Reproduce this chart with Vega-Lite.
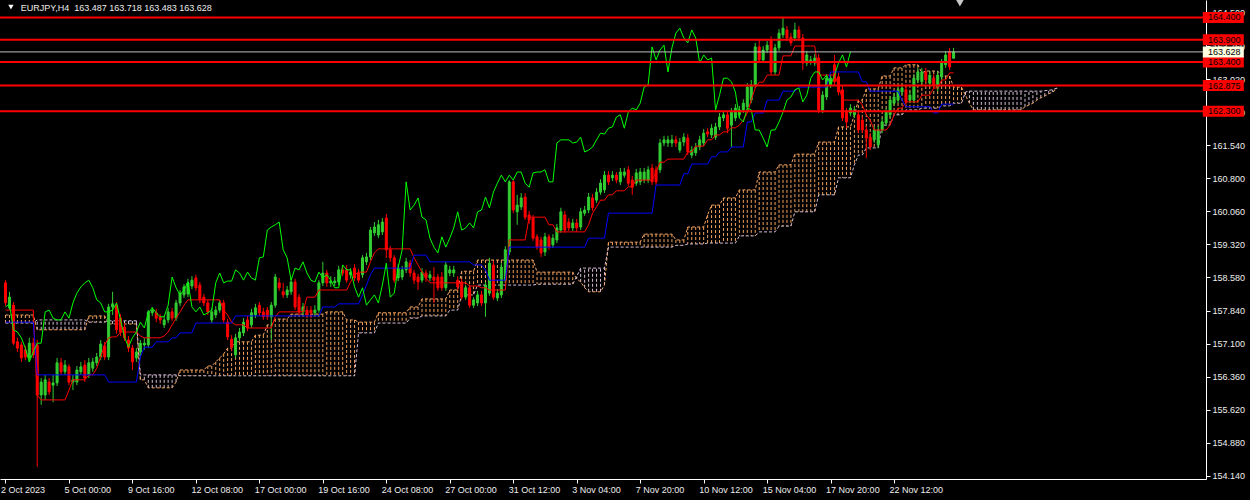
{
"$schema":"https://vega.github.io/schema/vega-lite/v6.json",
"width":1206,"height":479,"autosize":"none",
"padding":{"left":0,"top":0,"right":44,"bottom":21},
"background":"#000000",
"config":{"view":{"stroke":null},
"axis":{"grid":false,"domainColor":"#FFFFFF","tickColor":"#FFFFFF","tickSize":4,"labelColor":"#EEEEEE","labelFont":"Liberation Sans","labelFontSize":9,"labelPadding":2,"labelFlush":false,"labelOverlap":false,"labelBound":false},
"axisX":{"labelAlign":"left","labelBaseline":"top"},
"axisY":{"labelAlign":"left","labelBaseline":"middle"}},
"datasets":{
"bars":[
{"i":0,"o":158.46,"h":158.52,"l":157.94,"c":158.01,"t":157.85,"k":157.58,"ch":157.92,"a":157.74,"b":157.56},
{"i":1,"o":157.90,"h":158.26,"l":157.85,"c":158.14,"t":157.85,"k":157.58,"ch":157.99,"a":157.74,"b":157.56},
{"i":2,"o":157.96,"h":158.03,"l":157.07,"c":157.11,"t":157.85,"k":157.58,"ch":157.41,"a":157.74,"b":157.56},
{"i":3,"o":157.14,"h":157.23,"l":156.91,"c":157.00,"t":157.85,"k":157.58,"ch":157.36,"a":157.74,"b":157.56},
{"i":4,"o":157.07,"h":157.14,"l":156.69,"c":156.78,"t":157.85,"k":157.58,"ch":157.23,"a":157.74,"b":157.56},
{"i":5,"o":156.96,"h":157.05,"l":156.73,"c":156.80,"t":157.85,"k":157.58,"ch":157.00,"a":157.74,"b":157.56},
{"i":6,"o":156.78,"h":157.23,"l":156.69,"c":157.11,"t":157.85,"k":157.58,"ch":156.69,"a":157.74,"b":157.56},
{"i":7,"o":157.11,"h":157.23,"l":156.78,"c":156.85,"t":157.85,"k":157.58,"ch":156.91,"a":157.74,"b":157.56},
{"i":8,"o":157.07,"h":157.18,"l":154.34,"c":155.95,"t":155.95,"k":156.40,"ch":157.11,"a":157.41,"b":157.63},
{"i":9,"o":155.95,"h":156.33,"l":155.73,"c":156.24,"t":155.84,"k":156.40,"ch":157.11,"a":157.41,"b":157.63},
{"i":10,"o":155.95,"h":156.40,"l":155.84,"c":156.29,"t":155.84,"k":156.40,"ch":157.81,"a":157.41,"b":157.63},
{"i":11,"o":156.24,"h":156.33,"l":155.95,"c":156.02,"t":155.84,"k":156.40,"ch":157.85,"a":157.41,"b":157.63},
{"i":12,"o":156.17,"h":156.40,"l":155.79,"c":156.22,"t":155.84,"k":156.40,"ch":157.67,"a":157.41,"b":157.63},
{"i":13,"o":156.22,"h":156.78,"l":156.15,"c":156.67,"t":155.84,"k":156.40,"ch":157.63,"a":157.41,"b":157.63},
{"i":14,"o":156.67,"h":156.78,"l":156.40,"c":156.47,"t":155.84,"k":156.40,"ch":157.63,"a":157.41,"b":157.63},
{"i":15,"o":156.47,"h":156.73,"l":156.40,"c":156.62,"t":155.84,"k":156.40,"ch":157.81,"a":157.41,"b":157.63},
{"i":16,"o":156.58,"h":156.64,"l":156.17,"c":156.24,"t":156.06,"k":156.40,"ch":157.67,"a":157.41,"b":157.63},
{"i":17,"o":156.24,"h":156.40,"l":156.06,"c":156.29,"t":156.29,"k":156.40,"ch":158.01,"a":157.41,"b":157.63},
{"i":18,"o":156.24,"h":156.60,"l":156.17,"c":156.51,"t":156.29,"k":156.40,"ch":158.23,"a":157.41,"b":157.63},
{"i":19,"o":156.47,"h":156.69,"l":156.40,"c":156.58,"t":156.29,"k":156.40,"ch":158.37,"a":157.41,"b":157.63},
{"i":20,"o":156.62,"h":156.73,"l":156.24,"c":156.33,"t":156.29,"k":156.40,"ch":158.46,"a":157.41,"b":157.63},
{"i":21,"o":156.40,"h":156.78,"l":156.33,"c":156.67,"t":156.40,"k":156.40,"ch":158.52,"a":157.72,"b":157.58},
{"i":22,"o":156.55,"h":156.78,"l":156.47,"c":156.69,"t":156.40,"k":156.40,"ch":158.35,"a":157.72,"b":157.58},
{"i":23,"o":156.67,"h":156.89,"l":156.60,"c":156.80,"t":156.55,"k":156.40,"ch":158.08,"a":157.72,"b":157.58},
{"i":24,"o":156.80,"h":157.18,"l":156.73,"c":157.09,"t":156.80,"k":156.40,"ch":158.01,"a":157.72,"b":157.58},
{"i":25,"o":157.05,"h":157.14,"l":156.73,"c":156.80,"t":157.07,"k":156.40,"ch":157.81,"a":157.72,"b":157.58},
{"i":26,"o":156.80,"h":157.99,"l":156.73,"c":157.92,"t":157.23,"k":156.24,"ch":157.81,"a":157.54,"b":157.61},
{"i":27,"o":157.92,"h":158.26,"l":157.74,"c":157.99,"t":157.25,"k":156.24,"ch":157.85,"a":157.54,"b":157.61},
{"i":28,"o":157.96,"h":158.03,"l":157.32,"c":157.41,"t":157.25,"k":156.24,"ch":158.01,"a":157.54,"b":157.61},
{"i":29,"o":157.67,"h":157.76,"l":157.27,"c":157.36,"t":157.36,"k":156.24,"ch":157.63,"a":157.54,"b":157.61},
{"i":30,"o":157.47,"h":157.56,"l":157.16,"c":157.23,"t":157.36,"k":156.24,"ch":157.25,"a":157.54,"b":157.61},
{"i":31,"o":157.18,"h":157.27,"l":156.91,"c":157.00,"t":157.36,"k":156.24,"ch":157.02,"a":157.54,"b":157.61},
{"i":32,"o":157.00,"h":157.07,"l":156.51,"c":156.69,"t":157.36,"k":156.24,"ch":157.23,"a":157.54,"b":157.61},
{"i":33,"o":156.78,"h":157.00,"l":156.69,"c":156.91,"t":157.36,"k":156.24,"ch":157.36,"a":157.54,"b":157.61},
{"i":34,"o":156.91,"h":157.18,"l":156.82,"c":157.11,"t":157.27,"k":156.80,"ch":157.58,"a":156.29,"b":156.40},
{"i":35,"o":157.07,"h":157.23,"l":156.96,"c":157.11,"t":157.23,"k":157.02,"ch":157.45,"a":156.29,"b":156.40},
{"i":36,"o":157.07,"h":157.85,"l":157.00,"c":157.81,"t":157.23,"k":157.02,"ch":157.79,"a":156.11,"b":156.40},
{"i":37,"o":157.79,"h":157.92,"l":157.72,"c":157.85,"t":157.23,"k":157.02,"ch":157.90,"a":156.11,"b":156.40},
{"i":38,"o":157.79,"h":157.88,"l":157.58,"c":157.67,"t":157.23,"k":157.14,"ch":157.79,"a":156.11,"b":156.40},
{"i":39,"o":157.70,"h":157.76,"l":157.54,"c":157.63,"t":157.23,"k":157.14,"ch":157.70,"a":156.11,"b":156.40},
{"i":40,"o":157.52,"h":157.72,"l":157.45,"c":157.63,"t":157.27,"k":157.14,"ch":157.70,"a":156.11,"b":156.40},
{"i":41,"o":157.63,"h":157.90,"l":157.56,"c":157.81,"t":157.36,"k":157.14,"ch":157.96,"a":156.11,"b":156.40},
{"i":42,"o":157.81,"h":157.90,"l":157.61,"c":157.67,"t":157.52,"k":157.23,"ch":158.59,"a":156.11,"b":156.40},
{"i":43,"o":157.67,"h":158.08,"l":157.61,"c":158.01,"t":157.67,"k":157.23,"ch":158.35,"a":156.24,"b":156.40},
{"i":44,"o":158.01,"h":158.30,"l":157.94,"c":158.23,"t":157.81,"k":157.34,"ch":158.19,"a":156.51,"b":156.38},
{"i":45,"o":158.19,"h":158.43,"l":158.12,"c":158.37,"t":157.96,"k":157.34,"ch":158.30,"a":156.51,"b":156.38},
{"i":46,"o":158.21,"h":158.55,"l":158.14,"c":158.46,"t":158.08,"k":157.34,"ch":158.48,"a":156.51,"b":156.38},
{"i":47,"o":158.39,"h":158.61,"l":158.32,"c":158.52,"t":158.08,"k":157.34,"ch":157.92,"a":156.51,"b":156.38},
{"i":48,"o":158.57,"h":158.64,"l":158.28,"c":158.35,"t":158.08,"k":157.56,"ch":157.81,"a":156.51,"b":156.38},
{"i":49,"o":158.41,"h":158.48,"l":158.01,"c":158.08,"t":158.08,"k":157.56,"ch":157.92,"a":156.51,"b":156.38},
{"i":50,"o":158.14,"h":158.21,"l":157.94,"c":158.01,"t":158.08,"k":157.56,"ch":157.74,"a":156.51,"b":156.38},
{"i":51,"o":158.01,"h":158.08,"l":157.74,"c":157.81,"t":158.08,"k":157.56,"ch":157.79,"a":156.60,"b":156.38},
{"i":52,"o":157.63,"h":157.90,"l":157.56,"c":157.81,"t":158.08,"k":157.56,"ch":157.85,"a":156.60,"b":156.38},
{"i":53,"o":157.74,"h":157.94,"l":157.67,"c":157.85,"t":158.08,"k":157.56,"ch":158.46,"a":156.69,"b":156.38},
{"i":54,"o":157.85,"h":158.08,"l":157.79,"c":158.01,"t":158.08,"k":157.56,"ch":158.68,"a":156.78,"b":156.38},
{"i":55,"o":158.01,"h":158.08,"l":157.56,"c":157.63,"t":157.85,"k":157.56,"ch":158.46,"a":156.87,"b":156.38},
{"i":56,"o":157.58,"h":157.65,"l":157.18,"c":157.25,"t":157.74,"k":157.56,"ch":158.50,"a":157.00,"b":156.38},
{"i":57,"o":157.20,"h":157.29,"l":156.93,"c":157.02,"t":157.58,"k":157.56,"ch":158.50,"a":157.00,"b":156.38},
{"i":58,"o":156.85,"h":157.32,"l":156.78,"c":157.23,"t":157.52,"k":157.72,"ch":158.75,"a":157.14,"b":156.38},
{"i":59,"o":157.23,"h":157.45,"l":157.16,"c":157.36,"t":157.52,"k":157.72,"ch":158.68,"a":157.14,"b":156.38},
{"i":60,"o":157.34,"h":157.67,"l":157.27,"c":157.58,"t":157.52,"k":157.72,"ch":158.52,"a":157.14,"b":156.38},
{"i":61,"o":157.63,"h":157.72,"l":157.38,"c":157.45,"t":157.45,"k":157.72,"ch":158.70,"a":157.14,"b":156.38},
{"i":62,"o":157.52,"h":157.88,"l":157.45,"c":157.79,"t":157.45,"k":157.72,"ch":158.57,"a":157.14,"b":156.38},
{"i":63,"o":157.74,"h":157.99,"l":157.67,"c":157.90,"t":157.45,"k":157.72,"ch":158.52,"a":157.29,"b":156.38},
{"i":64,"o":157.96,"h":158.03,"l":157.72,"c":157.79,"t":157.45,"k":157.72,"ch":159.02,"a":157.29,"b":156.38},
{"i":65,"o":157.81,"h":157.90,"l":157.63,"c":157.70,"t":157.45,"k":157.72,"ch":159.04,"a":157.29,"b":156.38},
{"i":66,"o":157.85,"h":157.92,"l":157.63,"c":157.70,"t":157.45,"k":157.72,"ch":159.64,"a":157.52,"b":156.38},
{"i":67,"o":157.70,"h":158.03,"l":157.18,"c":157.96,"t":157.45,"k":157.72,"ch":159.71,"a":157.52,"b":156.38},
{"i":68,"o":157.96,"h":158.66,"l":157.90,"c":158.59,"t":157.70,"k":157.72,"ch":159.76,"a":157.65,"b":156.38},
{"i":69,"o":158.46,"h":158.57,"l":158.28,"c":158.35,"t":157.81,"k":157.72,"ch":159.82,"a":157.65,"b":156.38},
{"i":70,"o":158.26,"h":158.46,"l":158.12,"c":158.19,"t":157.81,"k":157.72,"ch":159.20,"a":157.65,"b":156.38},
{"i":71,"o":158.19,"h":158.39,"l":158.12,"c":158.30,"t":157.81,"k":157.72,"ch":159.02,"a":157.65,"b":156.38},
{"i":72,"o":158.26,"h":158.57,"l":158.19,"c":158.48,"t":157.81,"k":157.72,"ch":158.52,"a":157.76,"b":156.38},
{"i":73,"o":158.48,"h":158.55,"l":157.85,"c":157.92,"t":157.81,"k":157.72,"ch":158.79,"a":157.76,"b":156.38},
{"i":74,"o":158.14,"h":158.21,"l":157.74,"c":157.81,"t":157.81,"k":157.72,"ch":158.75,"a":157.76,"b":156.38},
{"i":75,"o":157.81,"h":158.01,"l":157.74,"c":157.92,"t":157.81,"k":157.72,"ch":158.93,"a":157.76,"b":156.38},
{"i":76,"o":157.85,"h":157.94,"l":157.67,"c":157.74,"t":158.14,"k":157.72,"ch":158.68,"a":157.76,"b":156.38},
{"i":77,"o":157.85,"h":157.94,"l":157.67,"c":157.79,"t":158.14,"k":157.72,"ch":158.52,"a":157.76,"b":156.38},
{"i":78,"o":157.79,"h":157.96,"l":157.72,"c":157.85,"t":158.14,"k":157.72,"ch":158.48,"a":157.76,"b":156.38},
{"i":79,"o":157.85,"h":158.52,"l":157.79,"c":158.46,"t":158.30,"k":157.72,"ch":158.70,"a":157.76,"b":156.38},
{"i":80,"o":158.46,"h":158.93,"l":158.39,"c":158.68,"t":158.30,"k":157.92,"ch":158.57,"a":157.76,"b":156.38},
{"i":81,"o":158.68,"h":158.75,"l":158.37,"c":158.46,"t":158.30,"k":157.92,"ch":158.64,"a":157.81,"b":156.38},
{"i":82,"o":158.46,"h":158.61,"l":158.37,"c":158.50,"t":158.30,"k":157.92,"ch":158.52,"a":157.81,"b":156.38},
{"i":83,"o":158.46,"h":158.59,"l":158.39,"c":158.50,"t":158.30,"k":157.92,"ch":158.35,"a":157.81,"b":156.38},
{"i":84,"o":158.48,"h":158.84,"l":158.41,"c":158.75,"t":158.30,"k":157.99,"ch":158.35,"a":157.81,"b":156.38},
{"i":85,"o":158.75,"h":158.86,"l":158.61,"c":158.68,"t":158.30,"k":157.99,"ch":158.86,"a":157.81,"b":156.38},
{"i":86,"o":158.75,"h":158.86,"l":158.46,"c":158.52,"t":158.30,"k":157.99,"ch":158.75,"a":157.63,"b":156.38},
{"i":87,"o":158.64,"h":158.79,"l":158.55,"c":158.70,"t":158.48,"k":157.99,"ch":158.75,"a":157.63,"b":156.38},
{"i":88,"o":158.79,"h":158.88,"l":158.50,"c":158.57,"t":158.64,"k":157.99,"ch":158.37,"a":157.63,"b":156.38},
{"i":89,"o":158.68,"h":158.77,"l":158.46,"c":158.52,"t":158.70,"k":157.99,"ch":158.14,"a":157.58,"b":157.34},
{"i":90,"o":158.64,"h":159.08,"l":158.57,"c":159.02,"t":158.70,"k":158.19,"ch":158.35,"a":157.58,"b":157.34},
{"i":91,"o":158.93,"h":159.13,"l":158.86,"c":159.04,"t":158.70,"k":158.41,"ch":157.96,"a":157.58,"b":157.34},
{"i":92,"o":159.04,"h":159.71,"l":158.97,"c":159.64,"t":158.93,"k":158.64,"ch":158.08,"a":157.58,"b":157.34},
{"i":93,"o":159.58,"h":159.82,"l":159.51,"c":159.71,"t":159.13,"k":158.79,"ch":158.19,"a":157.58,"b":157.34},
{"i":94,"o":159.53,"h":159.87,"l":159.46,"c":159.76,"t":159.22,"k":158.79,"ch":158.01,"a":157.79,"b":157.56},
{"i":95,"o":159.60,"h":159.91,"l":159.53,"c":159.82,"t":159.22,"k":158.79,"ch":158.41,"a":157.79,"b":157.56},
{"i":96,"o":159.91,"h":160.00,"l":159.02,"c":159.20,"t":159.22,"k":158.79,"ch":158.90,"a":157.79,"b":157.56},
{"i":97,"o":159.20,"h":159.28,"l":158.93,"c":159.02,"t":159.22,"k":158.79,"ch":158.14,"a":157.79,"b":157.56},
{"i":98,"o":159.02,"h":159.08,"l":158.46,"c":158.52,"t":159.22,"k":158.79,"ch":158.23,"a":157.79,"b":157.56},
{"i":99,"o":158.57,"h":158.88,"l":158.50,"c":158.79,"t":159.22,"k":158.79,"ch":158.81,"a":157.79,"b":157.56},
{"i":100,"o":158.59,"h":158.84,"l":158.52,"c":158.75,"t":159.22,"k":158.79,"ch":159.20,"a":157.79,"b":157.56},
{"i":101,"o":158.75,"h":159.02,"l":158.68,"c":158.93,"t":159.22,"k":158.79,"ch":160.72,"a":157.79,"b":157.56},
{"i":102,"o":158.90,"h":158.97,"l":158.59,"c":158.68,"t":159.22,"k":158.79,"ch":160.09,"a":157.92,"b":157.67},
{"i":103,"o":158.68,"h":158.75,"l":158.43,"c":158.52,"t":159.02,"k":159.08,"ch":160.20,"a":157.92,"b":157.67},
{"i":104,"o":158.59,"h":158.66,"l":158.30,"c":158.48,"t":158.86,"k":159.08,"ch":160.36,"a":157.92,"b":157.67},
{"i":105,"o":158.52,"h":158.79,"l":158.46,"c":158.70,"t":158.70,"k":159.08,"ch":159.93,"a":158.10,"b":157.72},
{"i":106,"o":158.68,"h":158.75,"l":158.48,"c":158.57,"t":158.57,"k":159.08,"ch":159.87,"a":158.10,"b":157.72},
{"i":107,"o":158.57,"h":158.73,"l":158.50,"c":158.64,"t":158.46,"k":158.93,"ch":159.46,"a":158.10,"b":157.72},
{"i":108,"o":158.59,"h":158.81,"l":158.01,"c":158.52,"t":158.46,"k":158.93,"ch":159.26,"a":158.10,"b":157.72},
{"i":109,"o":158.59,"h":158.66,"l":158.28,"c":158.35,"t":158.46,"k":158.93,"ch":159.13,"a":158.10,"b":157.72},
{"i":110,"o":158.59,"h":158.70,"l":158.28,"c":158.35,"t":158.46,"k":158.93,"ch":159.49,"a":158.10,"b":157.72},
{"i":111,"o":158.35,"h":158.93,"l":158.28,"c":158.86,"t":158.46,"k":158.93,"ch":159.26,"a":158.10,"b":157.72},
{"i":112,"o":158.68,"h":158.84,"l":158.61,"c":158.75,"t":158.46,"k":158.93,"ch":159.46,"a":158.30,"b":157.85},
{"i":113,"o":158.68,"h":158.84,"l":158.59,"c":158.75,"t":158.46,"k":158.93,"ch":159.69,"a":158.30,"b":157.85},
{"i":114,"o":158.52,"h":158.61,"l":158.30,"c":158.37,"t":158.46,"k":158.93,"ch":160.05,"a":158.30,"b":157.85},
{"i":115,"o":158.48,"h":158.55,"l":158.08,"c":158.14,"t":158.46,"k":158.93,"ch":159.64,"a":158.72,"b":158.19},
{"i":116,"o":158.14,"h":158.41,"l":158.08,"c":158.35,"t":158.46,"k":158.93,"ch":159.69,"a":158.72,"b":158.19},
{"i":117,"o":158.35,"h":158.41,"l":157.90,"c":157.96,"t":158.39,"k":158.93,"ch":159.80,"a":158.72,"b":158.19},
{"i":118,"o":157.96,"h":158.14,"l":157.90,"c":158.08,"t":158.39,"k":158.86,"ch":159.69,"a":158.72,"b":158.19},
{"i":119,"o":158.01,"h":158.28,"l":157.94,"c":158.19,"t":158.39,"k":158.86,"ch":160.05,"a":158.97,"b":158.41},
{"i":120,"o":158.19,"h":158.28,"l":157.94,"c":158.01,"t":158.35,"k":158.86,"ch":160.09,"a":158.97,"b":158.41},
{"i":121,"o":158.01,"h":158.48,"l":157.70,"c":158.41,"t":158.35,"k":158.75,"ch":160.38,"a":158.97,"b":158.41},
{"i":122,"o":158.23,"h":159.02,"l":158.17,"c":158.90,"t":158.30,"k":158.52,"ch":160.14,"a":158.97,"b":158.41},
{"i":123,"o":158.86,"h":158.95,"l":158.08,"c":158.14,"t":158.30,"k":158.52,"ch":160.49,"a":158.97,"b":158.41},
{"i":124,"o":158.12,"h":158.32,"l":158.05,"c":158.23,"t":158.30,"k":158.52,"ch":160.69,"a":158.97,"b":158.41},
{"i":125,"o":158.19,"h":158.90,"l":158.12,"c":158.81,"t":158.30,"k":158.52,"ch":160.87,"a":158.97,"b":158.41},
{"i":126,"o":158.52,"h":159.28,"l":158.46,"c":159.20,"t":158.30,"k":158.52,"ch":160.72,"a":158.97,"b":158.41},
{"i":127,"o":159.15,"h":160.76,"l":159.08,"c":160.72,"t":159.42,"k":159.26,"ch":160.87,"a":158.97,"b":158.41},
{"i":128,"o":160.72,"h":160.76,"l":160.02,"c":160.09,"t":159.42,"k":159.26,"ch":160.76,"a":158.97,"b":158.41},
{"i":129,"o":160.05,"h":160.43,"l":159.76,"c":160.20,"t":159.42,"k":159.26,"ch":160.94,"a":158.97,"b":158.41},
{"i":130,"o":160.16,"h":160.47,"l":160.09,"c":160.36,"t":159.42,"k":159.26,"ch":160.94,"a":158.97,"b":158.41},
{"i":131,"o":160.38,"h":160.47,"l":159.87,"c":159.93,"t":159.42,"k":159.26,"ch":160.69,"a":158.97,"b":158.41},
{"i":132,"o":159.98,"h":160.07,"l":159.78,"c":159.87,"t":159.93,"k":159.26,"ch":160.60,"a":158.97,"b":158.41},
{"i":133,"o":159.91,"h":159.98,"l":159.40,"c":159.46,"t":159.93,"k":159.26,"ch":160.92,"a":158.97,"b":158.41},
{"i":134,"o":159.49,"h":159.55,"l":159.20,"c":159.26,"t":159.93,"k":159.26,"ch":160.94,"a":158.70,"b":158.43},
{"i":135,"o":159.42,"h":159.49,"l":159.04,"c":159.13,"t":159.93,"k":159.26,"ch":160.94,"a":158.70,"b":158.43},
{"i":136,"o":159.15,"h":159.58,"l":159.06,"c":159.49,"t":159.93,"k":159.26,"ch":160.99,"a":158.70,"b":158.43},
{"i":137,"o":159.49,"h":159.55,"l":159.20,"c":159.26,"t":159.76,"k":159.26,"ch":160.72,"a":158.70,"b":158.43},
{"i":138,"o":159.31,"h":159.55,"l":159.24,"c":159.46,"t":159.76,"k":159.26,"ch":160.72,"a":158.70,"b":158.43},
{"i":139,"o":159.42,"h":159.78,"l":159.35,"c":159.69,"t":159.60,"k":159.26,"ch":161.59,"a":158.70,"b":158.43},
{"i":140,"o":159.64,"h":160.14,"l":159.58,"c":160.05,"t":159.60,"k":159.26,"ch":161.66,"a":158.70,"b":158.43},
{"i":141,"o":159.98,"h":160.07,"l":159.58,"c":159.64,"t":159.60,"k":159.26,"ch":161.66,"a":158.70,"b":158.43},
{"i":142,"o":159.82,"h":159.91,"l":159.62,"c":159.69,"t":159.60,"k":159.26,"ch":161.66,"a":158.70,"b":158.43},
{"i":143,"o":159.69,"h":159.89,"l":159.62,"c":159.80,"t":159.60,"k":159.26,"ch":161.59,"a":158.70,"b":158.43},
{"i":144,"o":159.80,"h":159.89,"l":159.60,"c":159.69,"t":159.60,"k":159.26,"ch":161.61,"a":158.55,"b":158.60},
{"i":145,"o":159.71,"h":160.14,"l":159.64,"c":160.05,"t":159.60,"k":159.26,"ch":161.72,"a":158.48,"b":158.79},
{"i":146,"o":160.02,"h":160.18,"l":159.96,"c":160.09,"t":159.60,"k":159.26,"ch":161.39,"a":158.35,"b":158.79},
{"i":147,"o":160.09,"h":160.47,"l":160.02,"c":160.38,"t":159.76,"k":159.46,"ch":161.43,"a":158.26,"b":158.79},
{"i":148,"o":160.36,"h":160.45,"l":160.07,"c":160.14,"t":160.02,"k":159.46,"ch":161.50,"a":158.26,"b":158.79},
{"i":149,"o":160.31,"h":160.58,"l":160.25,"c":160.49,"t":160.16,"k":159.46,"ch":161.66,"a":158.26,"b":158.79},
{"i":150,"o":160.49,"h":160.78,"l":160.43,"c":160.69,"t":160.31,"k":159.46,"ch":161.81,"a":158.26,"b":158.79},
{"i":151,"o":160.54,"h":160.96,"l":160.47,"c":160.87,"t":160.31,"k":159.46,"ch":161.79,"a":158.41,"b":158.79},
{"i":152,"o":160.87,"h":160.96,"l":160.65,"c":160.72,"t":160.43,"k":160.02,"ch":161.92,"a":159.37,"b":159.26},
{"i":153,"o":160.81,"h":160.96,"l":160.74,"c":160.87,"t":160.43,"k":160.02,"ch":161.95,"a":159.37,"b":159.26},
{"i":154,"o":160.87,"h":160.94,"l":160.69,"c":160.76,"t":160.52,"k":160.02,"ch":162.17,"a":159.37,"b":159.26},
{"i":155,"o":160.72,"h":161.03,"l":160.65,"c":160.94,"t":160.52,"k":160.02,"ch":162.22,"a":159.37,"b":159.26},
{"i":156,"o":160.87,"h":161.03,"l":160.81,"c":160.94,"t":160.52,"k":160.02,"ch":161.92,"a":159.37,"b":159.26},
{"i":157,"o":160.99,"h":161.07,"l":160.63,"c":160.69,"t":160.61,"k":160.02,"ch":162.28,"a":159.37,"b":159.26},
{"i":158,"o":160.76,"h":160.85,"l":160.43,"c":160.60,"t":160.61,"k":160.02,"ch":162.37,"a":159.37,"b":159.26},
{"i":159,"o":160.69,"h":161.01,"l":160.63,"c":160.92,"t":160.76,"k":160.02,"ch":162.33,"a":159.37,"b":159.26},
{"i":160,"o":160.72,"h":161.03,"l":160.65,"c":160.94,"t":160.76,"k":160.02,"ch":162.48,"a":159.37,"b":159.26},
{"i":161,"o":160.76,"h":161.03,"l":160.69,"c":160.94,"t":160.76,"k":160.02,"ch":162.84,"a":159.55,"b":159.26},
{"i":162,"o":160.76,"h":161.07,"l":160.69,"c":160.99,"t":160.76,"k":160.02,"ch":162.89,"a":159.55,"b":159.26},
{"i":163,"o":161.03,"h":161.12,"l":160.65,"c":160.72,"t":160.76,"k":160.02,"ch":163.74,"a":159.55,"b":159.26},
{"i":164,"o":160.99,"h":161.07,"l":160.65,"c":160.72,"t":160.94,"k":160.65,"ch":163.45,"a":159.55,"b":159.26},
{"i":165,"o":160.99,"h":161.68,"l":160.92,"c":161.59,"t":161.16,"k":160.65,"ch":163.67,"a":159.55,"b":159.26},
{"i":166,"o":161.59,"h":161.75,"l":161.52,"c":161.66,"t":161.16,"k":160.65,"ch":163.78,"a":159.55,"b":159.26},
{"i":167,"o":161.59,"h":161.75,"l":161.50,"c":161.66,"t":161.23,"k":160.65,"ch":163.18,"a":159.55,"b":159.26},
{"i":168,"o":161.59,"h":161.77,"l":161.50,"c":161.66,"t":161.23,"k":160.65,"ch":163.72,"a":159.55,"b":159.26},
{"i":169,"o":161.66,"h":161.75,"l":161.50,"c":161.59,"t":161.23,"k":160.65,"ch":164.05,"a":159.42,"b":159.30},
{"i":170,"o":161.43,"h":161.70,"l":161.37,"c":161.61,"t":161.23,"k":160.65,"ch":164.16,"a":159.42,"b":159.30},
{"i":171,"o":161.61,"h":161.81,"l":161.52,"c":161.72,"t":161.23,"k":160.90,"ch":163.94,"a":159.42,"b":159.30},
{"i":172,"o":161.70,"h":161.79,"l":161.32,"c":161.39,"t":161.39,"k":160.90,"ch":163.83,"a":159.71,"b":159.33},
{"i":173,"o":161.32,"h":161.52,"l":161.25,"c":161.43,"t":161.39,"k":161.12,"ch":164.12,"a":159.71,"b":159.33},
{"i":174,"o":161.37,"h":161.59,"l":161.30,"c":161.50,"t":161.52,"k":161.12,"ch":163.94,"a":159.71,"b":159.33},
{"i":175,"o":161.50,"h":161.75,"l":161.43,"c":161.66,"t":161.52,"k":161.12,"ch":163.38,"a":159.71,"b":159.33},
{"i":176,"o":161.59,"h":161.90,"l":161.52,"c":161.81,"t":161.52,"k":161.12,"ch":163.56,"a":159.71,"b":159.33},
{"i":177,"o":161.84,"h":161.92,"l":161.72,"c":161.79,"t":161.66,"k":161.12,"ch":163.45,"a":159.98,"b":159.35},
{"i":178,"o":161.77,"h":162.01,"l":161.70,"c":161.92,"t":161.66,"k":161.28,"ch":163.49,"a":160.20,"b":159.35},
{"i":179,"o":161.72,"h":162.04,"l":161.66,"c":161.95,"t":161.77,"k":161.28,"ch":162.33,"a":160.20,"b":159.35},
{"i":180,"o":161.95,"h":162.26,"l":161.88,"c":162.17,"t":161.77,"k":161.39,"ch":162.66,"a":160.20,"b":159.35},
{"i":181,"o":162.15,"h":162.31,"l":162.08,"c":162.22,"t":161.84,"k":161.39,"ch":163.04,"a":160.36,"b":159.35},
{"i":182,"o":162.22,"h":162.31,"l":161.81,"c":161.92,"t":161.84,"k":161.39,"ch":163.04,"a":160.36,"b":159.35},
{"i":183,"o":161.99,"h":162.37,"l":161.50,"c":162.28,"t":161.93,"k":161.50,"ch":162.96,"a":160.36,"b":159.35},
{"i":184,"o":162.15,"h":162.46,"l":162.08,"c":162.37,"t":161.93,"k":161.50,"ch":162.73,"a":160.36,"b":159.35},
{"i":185,"o":162.22,"h":162.42,"l":162.15,"c":162.33,"t":161.99,"k":161.50,"ch":162.15,"a":160.54,"b":159.51},
{"i":186,"o":162.33,"h":162.57,"l":162.26,"c":162.48,"t":162.10,"k":161.50,"ch":162.06,"a":160.54,"b":159.51},
{"i":187,"o":162.40,"h":162.93,"l":162.33,"c":162.84,"t":162.26,"k":162.06,"ch":162.37,"a":160.54,"b":159.51},
{"i":188,"o":162.55,"h":163.00,"l":162.48,"c":162.89,"t":162.55,"k":162.06,"ch":162.33,"a":160.54,"b":159.51},
{"i":189,"o":162.89,"h":163.83,"l":162.82,"c":163.74,"t":162.82,"k":162.26,"ch":161.88,"a":160.54,"b":159.51},
{"i":190,"o":163.74,"h":163.90,"l":163.38,"c":163.45,"t":162.95,"k":162.26,"ch":161.88,"a":160.94,"b":159.60},
{"i":191,"o":163.45,"h":163.76,"l":163.38,"c":163.67,"t":162.95,"k":162.26,"ch":161.70,"a":160.94,"b":159.60},
{"i":192,"o":163.67,"h":163.87,"l":163.60,"c":163.78,"t":163.11,"k":162.55,"ch":161.50,"a":160.94,"b":159.60},
{"i":193,"o":163.90,"h":163.98,"l":163.11,"c":163.18,"t":163.11,"k":162.55,"ch":161.88,"a":160.94,"b":159.60},
{"i":194,"o":163.18,"h":163.81,"l":163.11,"c":163.72,"t":163.11,"k":162.55,"ch":161.88,"a":160.94,"b":159.60},
{"i":195,"o":163.72,"h":164.14,"l":163.65,"c":164.05,"t":163.11,"k":162.55,"ch":162.06,"a":161.10,"b":159.73},
{"i":196,"o":164.01,"h":164.39,"l":163.94,"c":164.16,"t":163.54,"k":162.75,"ch":162.28,"a":161.10,"b":159.73},
{"i":197,"o":164.12,"h":164.21,"l":163.87,"c":163.94,"t":163.54,"k":162.75,"ch":162.55,"a":161.10,"b":159.73},
{"i":198,"o":163.96,"h":164.05,"l":163.76,"c":163.83,"t":163.54,"k":162.75,"ch":162.62,"a":161.10,"b":159.73},
{"i":199,"o":163.94,"h":164.28,"l":163.87,"c":164.12,"t":163.76,"k":162.75,"ch":162.78,"a":161.34,"b":160.05},
{"i":200,"o":164.12,"h":164.21,"l":163.87,"c":163.94,"t":163.76,"k":162.84,"ch":162.82,"a":161.34,"b":160.05},
{"i":201,"o":163.94,"h":164.03,"l":163.22,"c":163.38,"t":163.76,"k":162.84,"ch":162.51,"a":161.34,"b":160.05},
{"i":202,"o":163.38,"h":163.65,"l":163.31,"c":163.56,"t":163.76,"k":162.84,"ch":162.66,"a":161.34,"b":160.05},
{"i":203,"o":163.40,"h":163.54,"l":163.34,"c":163.45,"t":163.76,"k":162.84,"ch":163.04,"a":161.34,"b":160.05},
{"i":204,"o":163.38,"h":163.58,"l":163.31,"c":163.49,"t":163.76,"k":162.84,"ch":163.18,"a":161.34,"b":160.05},
{"i":205,"o":163.49,"h":163.58,"l":162.26,"c":162.33,"t":163.11,"k":162.84,"ch":163.18,"a":161.61,"b":160.43},
{"i":206,"o":162.33,"h":162.75,"l":162.26,"c":162.66,"t":163.11,"k":162.84,"ch":163.00,"a":161.61,"b":160.43},
{"i":207,"o":162.62,"h":163.13,"l":162.55,"c":163.04,"t":163.11,"k":162.84,"ch":163.11,"a":161.61,"b":160.43},
{"i":208,"o":162.89,"h":163.13,"l":162.82,"c":163.04,"t":163.11,"k":163.18,"ch":162.89,"a":161.61,"b":160.43},
{"i":209,"o":163.34,"h":163.56,"l":162.89,"c":162.96,"t":163.11,"k":163.18,"ch":163.11,"a":161.61,"b":160.43},
{"i":210,"o":163.07,"h":163.16,"l":162.66,"c":162.73,"t":162.89,"k":163.18,"ch":163.38,"a":161.95,"b":160.81},
{"i":211,"o":162.78,"h":162.87,"l":162.08,"c":162.15,"t":162.55,"k":163.18,"ch":163.56,"a":161.95,"b":160.81},
{"i":212,"o":162.28,"h":162.37,"l":161.93,"c":162.06,"t":162.55,"k":163.18,"ch":163.29,"a":161.95,"b":160.81},
{"i":213,"o":162.26,"h":162.46,"l":162.19,"c":162.37,"t":162.55,"k":163.18,"ch":163.628,"a":161.95,"b":160.81},
{"i":214,"o":162.22,"h":162.42,"l":162.15,"c":162.33,"t":162.55,"k":163.18,"a":162.22,"b":161.10},
{"i":215,"o":162.22,"h":162.31,"l":161.81,"c":161.88,"t":162.55,"k":163.18,"a":162.55,"b":161.32},
{"i":216,"o":162.10,"h":162.19,"l":161.81,"c":161.88,"t":162.44,"k":162.96,"a":162.55,"b":161.32},
{"i":217,"o":161.88,"h":161.97,"l":161.25,"c":161.70,"t":162.22,"k":162.96,"a":162.80,"b":161.48},
{"i":218,"o":161.72,"h":161.81,"l":161.43,"c":161.50,"t":162.10,"k":162.75,"a":162.80,"b":161.48},
{"i":219,"o":161.66,"h":161.97,"l":161.59,"c":161.88,"t":161.88,"k":162.75,"a":162.80,"b":161.48},
{"i":220,"o":161.55,"h":161.97,"l":161.48,"c":161.88,"t":161.88,"k":162.75,"a":162.80,"b":161.48},
{"i":221,"o":161.88,"h":162.15,"l":161.81,"c":162.06,"t":161.88,"k":162.75,"a":163.09,"b":161.99},
{"i":222,"o":162.04,"h":162.37,"l":161.97,"c":162.28,"t":161.88,"k":162.75,"a":163.09,"b":161.99},
{"i":223,"o":162.22,"h":162.64,"l":162.15,"c":162.55,"t":161.99,"k":162.75,"a":163.09,"b":161.99},
{"i":224,"o":162.48,"h":162.71,"l":162.42,"c":162.62,"t":162.22,"k":162.75,"a":163.27,"b":162.22},
{"i":225,"o":162.55,"h":162.87,"l":162.48,"c":162.78,"t":162.37,"k":162.75,"a":163.27,"b":162.22},
{"i":226,"o":162.73,"h":162.91,"l":162.66,"c":162.82,"t":162.37,"k":162.55,"a":163.27,"b":162.22},
{"i":227,"o":162.78,"h":162.87,"l":162.44,"c":162.51,"t":162.51,"k":162.40,"a":163.34,"b":162.33},
{"i":228,"o":162.55,"h":162.75,"l":162.48,"c":162.66,"t":162.51,"k":162.40,"a":163.34,"b":162.33},
{"i":229,"o":162.55,"h":163.13,"l":162.48,"c":163.04,"t":162.51,"k":162.40,"a":163.34,"b":162.33},
{"i":230,"o":163.00,"h":163.27,"l":162.93,"c":163.18,"t":162.51,"k":162.40,"a":163.34,"b":162.33},
{"i":231,"o":162.96,"h":163.27,"l":162.89,"c":163.18,"t":162.66,"k":162.40,"a":163.16,"b":162.37},
{"i":232,"o":163.18,"h":163.27,"l":162.93,"c":163.00,"t":162.66,"k":162.40,"a":163.20,"b":162.37},
{"i":233,"o":162.93,"h":163.20,"l":162.87,"c":163.11,"t":162.66,"k":162.40,"a":163.20,"b":162.37},
{"i":234,"o":163.04,"h":163.13,"l":162.82,"c":162.89,"t":162.82,"k":162.26,"a":163.20,"b":162.37},
{"i":235,"o":162.82,"h":163.20,"l":162.75,"c":163.11,"t":162.82,"k":162.26,"a":163.20,"b":162.37},
{"i":236,"o":163.07,"h":163.47,"l":163.00,"c":163.38,"t":163.00,"k":162.46,"a":163.09,"b":162.42},
{"i":237,"o":163.34,"h":163.65,"l":163.27,"c":163.56,"t":163.00,"k":162.46,"a":163.09,"b":162.42},
{"i":238,"o":163.63,"h":163.72,"l":163.22,"c":163.29,"t":163.16,"k":162.46,"a":163.09,"b":162.42},
{"i":239,"o":163.487,"h":163.718,"l":163.483,"c":163.628,"t":163.16,"k":162.46,"a":162.84,"b":162.48},
{"i":240,"a":162.84,"b":162.48},
{"i":241,"a":162.84,"b":162.48},
{"i":242,"a":162.66,"b":162.73},
{"i":243,"a":162.48,"b":162.75},
{"i":244,"a":162.33,"b":162.75},
{"i":245,"a":162.33,"b":162.75},
{"i":246,"a":162.33,"b":162.75},
{"i":247,"a":162.33,"b":162.75},
{"i":248,"a":162.33,"b":162.75},
{"i":249,"a":162.33,"b":162.75},
{"i":250,"a":162.33,"b":162.75},
{"i":251,"a":162.33,"b":162.75},
{"i":252,"a":162.33,"b":162.75},
{"i":253,"a":162.33,"b":162.75},
{"i":254,"a":162.33,"b":162.75},
{"i":255,"a":162.33,"b":162.75},
{"i":256,"a":162.33,"b":162.75},
{"i":257,"a":162.40,"b":162.75},
{"i":258,"a":162.44,"b":162.75},
{"i":259,"a":162.48,"b":162.75},
{"i":260,"a":162.55,"b":162.75},
{"i":261,"a":162.60,"b":162.75},
{"i":262,"a":162.64,"b":162.76},
{"i":263,"a":162.69,"b":162.77},
{"i":264,"a":162.73,"b":162.78},
{"i":265,"a":162.80,"b":162.82}
],
"lv":[{"p":164.4,"s":"164.400"},{"p":163.9,"s":"163.900"},{"p":163.4,"s":"163.400"},{"p":162.875,"s":"162.875"},{"p":162.3,"s":"162.300"}],
"bd":[{"p":163.628,"s":"163.628"}],
"hd":[{"s":"EURJPY,H4\u00a0\u00a0163.487 163.718 163.483 163.628"}]
},
"layer":[
{"data":{"name":"bars"},"mark":{"type":"rule","strokeDash":[3,2],"strokeWidth":1},
"encoding":{
"x":{"field":"i","type":"quantitative","title":null,"scale":{"domain":[-0.125,301.375],"nice":false,"zero":false},
"axis":{"values":[0,16,32,48,64,80,96,112,128,144,160,176,192,208,224],"tickCount":40,"labelOverlap":false,"labelOffset":-5,
"labelExpr":"['2 Oct 2023','5 Oct 00:00','9 Oct 16:00','12 Oct 08:00','17 Oct 00:00','19 Oct 16:00','24 Oct 08:00','27 Oct 00:00','31 Oct 12:00','3 Nov 04:00','7 Nov 20:00','10 Nov 12:00','15 Nov 04:00','17 Nov 20:00','22 Nov 12:00'][round(datum.value/16)]"}},
"y":{"field":"a","type":"quantitative","title":null,"scale":{"domain":[154.07,164.79],"nice":false,"zero":false},
"axis":{"orient":"right","tickCount":30,"labelOverlap":false,"values":[154.14,154.88,155.62,156.36,157.1,157.84,158.58,159.32,160.06,160.8,161.54,162.28,163.02,163.76,164.5],"format":".3f"}},
"y2":{"field":"b"},
"stroke":{"condition":{"test":"datum.a >= datum.b","value":"#F4A460"},"value":"#D8BFD8"}}},
{"data":{"name":"bars"},"mark":{"type":"line","color":"#F4A460","strokeDash":[3,2],"strokeWidth":1},
"encoding":{"x":{"field":"i","type":"quantitative","title":null},"y":{"field":"a","type":"quantitative","title":null,"axis":{"orient":"right","labelOverlap":false}}}},
{"data":{"name":"bars"},"mark":{"type":"line","color":"#D8BFD8","strokeDash":[3,2],"strokeWidth":1},
"encoding":{"x":{"field":"i","type":"quantitative","title":null},"y":{"field":"b","type":"quantitative","title":null,"axis":{"orient":"right","labelOverlap":false}}}},
{"data":{"name":"bars"},"mark":{"type":"rule","strokeWidth":1},
"encoding":{"x":{"field":"i","type":"quantitative","title":null},"y":{"field":"l","type":"quantitative","title":null,"axis":{"orient":"right","labelOverlap":false}},"y2":{"field":"h"},
"stroke":{"condition":{"test":"datum.c >= datum.o","value":"#32CD32"},"value":"#FF0000"}}},
{"data":{"name":"bars"},"mark":{"type":"bar","width":2,"strokeWidth":1},
"encoding":{"x":{"field":"i","type":"quantitative","title":null},"y":{"field":"o","type":"quantitative","title":null,"axis":{"orient":"right","labelOverlap":false}},"y2":{"field":"c"},
"fill":{"condition":{"test":"datum.c >= datum.o","value":"#32CD32"},"value":"#FF0000"},
"stroke":{"condition":{"test":"datum.c >= datum.o","value":"#32CD32"},"value":"#FF0000"}}},
{"data":{"name":"bars"},"mark":{"type":"line","color":"#FF0000","strokeWidth":1},
"encoding":{"x":{"field":"i","type":"quantitative","title":null},"y":{"field":"t","type":"quantitative","title":null,"axis":{"orient":"right","labelOverlap":false}}}},
{"data":{"name":"bars"},"mark":{"type":"line","color":"#0000FF","strokeWidth":1},
"encoding":{"x":{"field":"i","type":"quantitative","title":null},"y":{"field":"k","type":"quantitative","title":null,"axis":{"orient":"right","labelOverlap":false}}}},
{"data":{"name":"bars"},"mark":{"type":"line","color":"#00FF00","strokeWidth":1},
"encoding":{"x":{"field":"i","type":"quantitative","title":null},"y":{"field":"ch","type":"quantitative","title":null,"axis":{"orient":"right","labelOverlap":false}}}},
{"data":{"name":"lv"},"mark":{"type":"rule","color":"#FF0000","strokeWidth":2},
"encoding":{"y":{"field":"p","type":"quantitative","title":null,"axis":{"orient":"right","labelOverlap":false}}}},
{"data":{"name":"bd"},"mark":{"type":"rule","color":"#C0C0C0","strokeWidth":1},
"encoding":{"y":{"field":"p","type":"quantitative","title":null,"axis":{"orient":"right","labelOverlap":false}}}},
{"data":{"name":"lv"},"mark":{"type":"point","shape":"M-1,-0.2683L1,-0.2683L1,0.2683L-1,0.2683Z","size":1681,"filled":true,"color":"#FF0000","opacity":1,"strokeWidth":0},
"encoding":{"x":{"datum":307,"type":"quantitative","title":null},"y":{"field":"p","type":"quantitative","title":null,"axis":{"orient":"right","labelOverlap":false}}}},
{"data":{"name":"bd"},"mark":{"type":"point","shape":"M-1,-0.2683L1,-0.2683L1,0.2683L-1,0.2683Z","size":1681,"filled":true,"color":"#FFFFE0","opacity":1,"strokeWidth":0},
"encoding":{"x":{"datum":307,"type":"quantitative","title":null},"y":{"field":"p","type":"quantitative","title":null,"axis":{"orient":"right","labelOverlap":false}}}},
{"data":{"name":"lv"},"mark":{"type":"text","align":"left","baseline":"middle","font":"Liberation Sans","fontSize":9,"color":"#000000"},
"encoding":{"x":{"datum":303.125,"type":"quantitative","title":null},"y":{"field":"p","type":"quantitative","title":null,"axis":{"orient":"right","labelOverlap":false}},"text":{"field":"s"}}},
{"data":{"name":"bd"},"mark":{"type":"text","align":"left","baseline":"middle","font":"Liberation Sans","fontSize":9,"color":"#000000"},
"encoding":{"x":{"datum":303.125,"type":"quantitative","title":null},"y":{"field":"p","type":"quantitative","title":null,"axis":{"orient":"right","labelOverlap":false}},"text":{"field":"s"}}},
{"data":{"name":"hd"},"mark":{"type":"text","align":"left","baseline":"middle","font":"Liberation Sans","fontSize":9,"color":"#EEEEEE"},
"encoding":{"x":{"datum":3.875,"type":"quantitative","title":null},"y":{"datum":164.61,"type":"quantitative","title":null,"axis":{"orient":"right","labelOverlap":false}},"text":{"field":"s"}}},
{"data":{"name":"hd"},"mark":{"type":"point","shape":"triangle-down","size":28,"filled":true,"color":"#FFFFFF","opacity":1},
"encoding":{"x":{"datum":1.375,"type":"quantitative","title":null},"y":{"datum":164.63,"type":"quantitative","title":null,"axis":{"orient":"right","labelOverlap":false}}}},
{"data":{"name":"hd"},"mark":{"type":"point","shape":"triangle-down","size":60,"filled":true,"color":"#C8C8C8","opacity":1},
"encoding":{"x":{"datum":240.6,"type":"quantitative","title":null},"y":{"datum":164.72,"type":"quantitative","title":null,"axis":{"orient":"right","labelOverlap":false}}}}
]
}
